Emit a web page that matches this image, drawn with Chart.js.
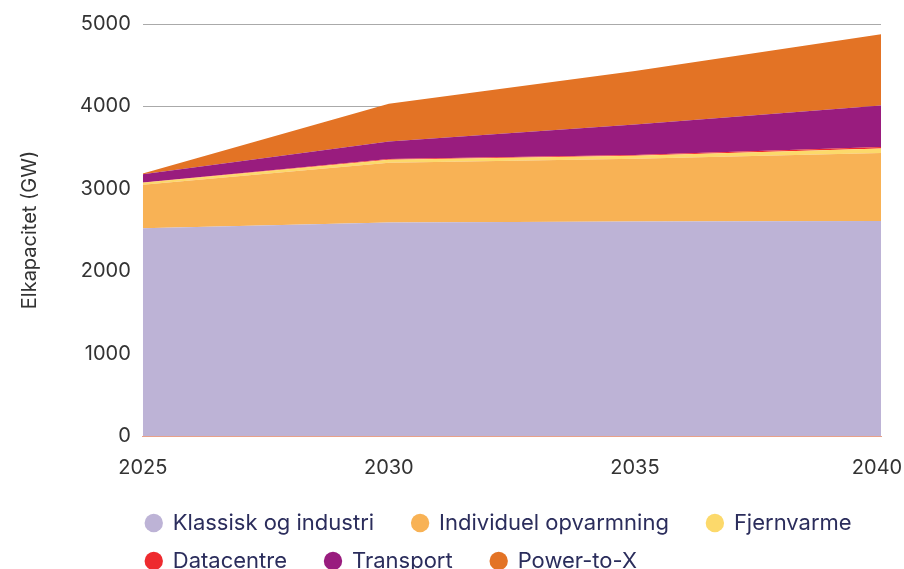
<!DOCTYPE html>
<html>
<head>
<meta charset="utf-8">
<script src="https://cdn.jsdelivr.net/npm/chart.js@4/dist/chart.umd.min.js"></script>
<style>
html,body{margin:0;padding:0;background:#fff;}
#wrap{width:904px;height:569px;position:relative;}
</style>
</head>
<body>
<div id="wrap"><canvas id="c" width="904" height="569"></canvas></div>
<script>
const years = ['2025', '2030', '2035', '2040'];
const klassisk = [2520, 2590, 2603, 2610];
const individuel = [530, 727, 763, 825];
const fjernvarme = [22, 36, 34, 55];
const datacentre = [5, 10, 10, 17];
const transport = [100, 210, 370, 504];
const powerToX = [10, 460, 650, 864];
const yTicks = [0, 1000, 2000, 3000, 4000, 5000];

const seriesNames = ['Klassisk og industri', 'Individuel opvarmning', 'Fjernvarme', 'Datacentre', 'Transport', 'Power-to-X'];
const seriesData = [klassisk, individuel, fjernvarme, datacentre, transport, powerToX];
const colors = ['#bdb3d6', '#f8b255', '#fcd96b', '#ee2a2e', '#991c7e', '#e37325'];

const FONT = 'Inter';

const datasets = seriesNames.map((n, i) => ({
  label: n,
  data: seriesData[i],
  backgroundColor: colors[i],
  borderColor: colors[i],
  borderWidth: 0,
  pointRadius: 0,
  fill: i === 0 ? 'origin' : '-1',
  tension: 0
}));

const legendShift = {
  id: 'legendShift',
  afterLayout(chart) {
    const lg = chart.legend;
    if (lg) { lg.left = chart.chartArea.left - 13; lg.top = lg.top - 4; }
  },
  beforeDraw(chart) {
    const sx = chart.scales.x;
    if (sx && sx.getLabelItems) {
      const items = sx.getLabelItems();
      const last = items[items.length - 1];
      if (last && last.options && last.options.translation) {
        last.options.translation[0] -= 4;
      }
    }
  }
};

new Chart(document.getElementById('c'), {
  type: 'line',
  data: { labels: years, datasets },
  plugins: [legendShift],
  options: {
    responsive: false,
    animation: false,
    layout: { padding: { left: 18, right: -23, top: 12, bottom: -17 } },
    scales: {
      x: {
        offset: false,
        afterFit: (s) => { s.paddingRight = 23; },
        grid: { display: false, drawTicks: false },
        border: { display: true, color: '#e8a189', width: 1 },
        ticks: { color: '#333', font: { family: FONT, size: 20 }, padding: 20, maxRotation: 0, autoSkip: false }
      },
      y: {
        stacked: true,
        min: 0, max: 5000,
        afterBuildTicks: (ax) => { ax.ticks = yTicks.map(v => ({ value: v })); },
        grid: { color: '#aaa', drawTicks: false, lineWidth: 1 },
        border: { display: false },
        ticks: { color: '#333', font: { family: FONT, size: 20 }, padding: 12, callback: (v) => String(v) },
        title: { display: true, text: 'Elkapacitet (GW)', color: '#333', font: { family: FONT, size: 20 }, padding: { top: 0, bottom: 26 } }
      }
    },
    plugins: {
      legend: {
        position: 'bottom',
        align: 'start',
        fullSize: true,
        labels: {
          usePointStyle: true,
          pointStyle: 'circle',
          boxWidth: 16,
          boxHeight: 13,
          padding: 16,
          color: '#2b2d5c',
          font: { family: FONT, size: 22 },
          generateLabels: (chart) => {
            const items = Chart.defaults.plugins.legend.labels.generateLabels(chart);
            items.forEach(it => { it.text = it.text + '\u2002\u2002'; it.lineWidth = 0; });
            return items;
          }
        }
      },
      tooltip: { enabled: false }
    }
  }
});
</script>
</body>
</html>
